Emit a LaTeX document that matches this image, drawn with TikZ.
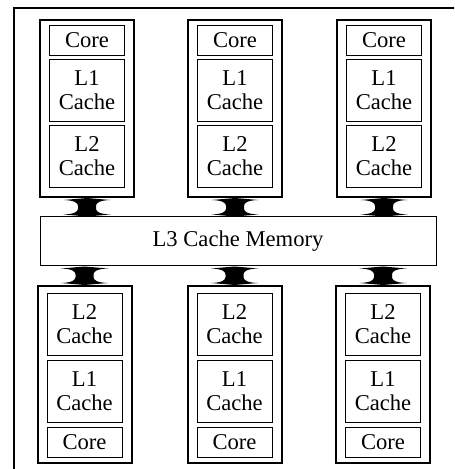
\documentclass[tikz,border=0pt]{standalone}
\usepackage{fontspec}
\setmainfont{Liberation Serif}
\usetikzlibrary{positioning, calc}

\begin{document}
\begin{tikzpicture}[
		x=0.5pt, y=-0.5pt,
		node distance=1.5pt,
		every node/.style={font=\fontsize{11.3}{12}\selectfont},
		unitbox/.style={draw, align=center, inner sep=0pt, line width=0.5pt, minimum width=37.5pt},
		corebox/.style={unitbox, minimum height=15pt},
		cachebox/.style={unitbox, minimum height=31pt},
		module/.style={draw, line width=1pt, minimum width=47pt, minimum height=88.5pt},
		membox/.style={draw, line width=0.5pt, minimum width=198pt, minimum height=24.5pt},
		% fat two-headed bus arrow, drawn downwards from start to target
		busarrow/.style={fill=black, to path={
				-- ($(\tikztostart)+(11.75pt,-1pt)$)
				.. controls ($(\tikztostart)+(6pt,-1.2pt)$) and ($(\tikztostart)+(4.5pt,-2.5pt)$) .. ($(\tikztostart)+(4.5pt,-4pt)$)
				-- ($(\tikztotarget)+(4.5pt,4pt)$)
				.. controls ($(\tikztotarget)+(4.5pt,2.5pt)$) and ($(\tikztotarget)+(6pt,1.2pt)$) .. ($(\tikztotarget)+(11.75pt,1pt)$)
				-- (\tikztotarget)
				-- ($(\tikztotarget)+(-11.75pt,1pt)$)
				.. controls ($(\tikztotarget)+(-6pt,1.2pt)$) and ($(\tikztotarget)+(-4.5pt,2.5pt)$) .. ($(\tikztotarget)+(-4.5pt,4pt)$)
				-- ($(\tikztostart)+(-4.5pt,-4pt)$)
				.. controls ($(\tikztostart)+(-4.5pt,-2.5pt)$) and ($(\tikztostart)+(-6pt,-1.2pt)$) .. ($(\tikztostart)+(-11.75pt,-1pt)$)
				-- cycle}}
		]
		
		% FRAME (cut by the page at right and bottom)
		\useasboundingbox (0,0) rectangle (454,469);
		\clip (0,0) rectangle (454,469);
		\draw[line width=0.8pt] (14,8) rectangle (462,477);
		
		% TOP ROW: Core, L1, L2 from the top down
		\foreach \i/\x in {1/87, 2/235, 3/384} {
			\node[module] (top\i) at (\x,108.5) {};
			\node[corebox, below=3pt of top\i.north] (tcore\i) {Core};
			\node[cachebox, below=of tcore\i] (tlone\i) {L1\\Cache};
			\node[cachebox, below=of tlone\i] (tltwo\i) {L2\\Cache};
		}
		
		% L3 CACHE
		\node[membox] (lthree) at (238,241.5) {L3 Cache Memory};
		
		% BOTTOM ROW: Core, L1, L2 from the bottom up
		\foreach \i/\x in {1/84.5, 2/234.5, 3/383} {
			\node[module] (bot\i) at (\x,374.5) {};
			\node[corebox, above=3pt of bot\i.south] (bcore\i) {Core};
			\node[cachebox, above=2pt of bcore\i] (blone\i) {L1\\Cache};
			\node[cachebox, above=2pt of blone\i] (bltwo\i) {L2\\Cache};
		}
		
		% CONNECTIONS
		\foreach \i in {1,2,3} {
			\coordinate (tend\i) at (top\i.south |- lthree.north);
			\coordinate (bend\i) at (lthree.south -| bot\i.north);
			\fill[busarrow] (top\i.south) to (tend\i);
			\fill[busarrow] (bend\i) to (bot\i.north);
		}
		
	\end{tikzpicture}
\end{document}
